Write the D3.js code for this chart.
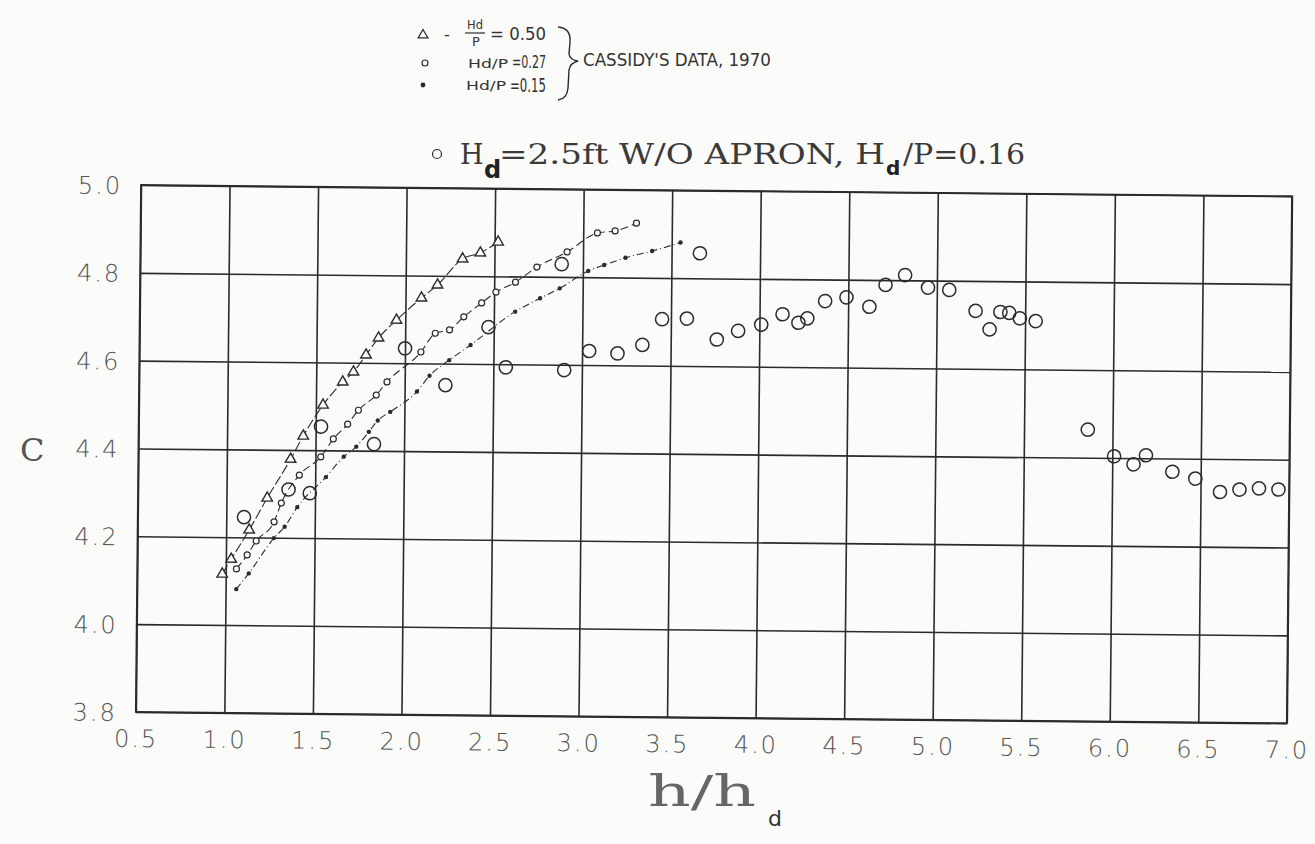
<!DOCTYPE html>
<html>
<head>
<meta charset="utf-8">
<script src="https://cdn.jsdelivr.net/npm/d3@7"></script>
<style>
  html, body { margin: 0; padding: 0; background: #fbfbf9; }
  svg { display: block; }
</style>
</head>
<body>
<svg id="chart" width="1315" height="844"></svg>
<script>
// ---------------- data ----------------
const xTicks = [0.5, 1.0, 1.5, 2.0, 2.5, 3.0, 3.5, 4.0, 4.5, 5.0, 5.5, 6.0, 6.5, 7.0];
const yTicks = [3.8, 4.0, 4.2, 4.4, 4.6, 4.8, 5.0];

// Cassidy's data, Hd/P = 0.50 (triangles)
const triX = [0.98, 1.03, 1.13, 1.23, 1.36, 1.43, 1.54, 1.65, 1.71, 1.78, 1.85, 1.95, 2.09, 2.18, 2.32, 2.42, 2.52];
const triC = [4.116, 4.150, 4.217, 4.290, 4.379, 4.432, 4.503, 4.556, 4.579, 4.618, 4.657, 4.698, 4.749, 4.779, 4.839, 4.853, 4.878];

// Cassidy's data, Hd/P = 0.27 (small open circles)
const openX = [1.06, 1.12, 1.17, 1.27, 1.31, 1.41, 1.53, 1.60, 1.68, 1.74, 1.84, 1.90, 2.09, 2.17, 2.25, 2.33, 2.43, 2.51, 2.62, 2.74, 2.91, 3.08, 3.18, 3.30];
const openC = [4.128, 4.160, 4.192, 4.236, 4.279, 4.343, 4.385, 4.426, 4.460, 4.492, 4.527, 4.557, 4.626, 4.669, 4.677, 4.707, 4.739, 4.764, 4.787, 4.822, 4.857, 4.901, 4.906, 4.924];

// Cassidy's data, Hd/P = 0.15 (dots)
const dotX = [1.06, 1.13, 1.27, 1.33, 1.40, 1.56, 1.66, 1.73, 1.80, 1.85, 1.92, 2.07, 2.14, 2.25, 2.37, 2.62, 2.76, 2.87, 3.03, 3.12, 3.24, 3.39, 3.55];
const dotC = [4.082, 4.118, 4.199, 4.225, 4.270, 4.339, 4.386, 4.409, 4.443, 4.469, 4.489, 4.536, 4.572, 4.608, 4.643, 4.720, 4.751, 4.774, 4.814, 4.828, 4.845, 4.861, 4.881];

// Hd = 2.5 ft without apron, Hd/P = 0.16 (large open circles)
const bigX = [1.10, 1.35, 1.47, 1.53, 1.83, 2.00, 2.23, 2.47, 2.57, 2.88, 2.90, 3.04, 3.20, 3.34, 3.45, 3.59, 3.66, 3.76, 3.88, 4.01, 4.13, 4.22, 4.27, 4.37, 4.49, 4.62, 4.71, 4.82, 4.95, 5.07, 5.22, 5.30, 5.36, 5.41, 5.47, 5.56, 5.86, 6.01, 6.12, 6.19, 6.34, 6.47, 6.61, 6.72, 6.83, 6.94];
const bigC = [4.246, 4.310, 4.302, 4.454, 4.415, 4.634, 4.551, 4.684, 4.593, 4.829, 4.588, 4.632, 4.627, 4.647, 4.706, 4.708, 4.857, 4.661, 4.681, 4.696, 4.720, 4.701, 4.711, 4.751, 4.760, 4.739, 4.789, 4.812, 4.784, 4.779, 4.732, 4.690, 4.730, 4.728, 4.716, 4.710, 4.464, 4.404, 4.386, 4.407, 4.370, 4.355, 4.325, 4.331, 4.334, 4.332];

// ---------------- layout ----------------
const svg = d3.select("#chart");
const W = 1151, H = 527;
const ink = "#2b2b2b", grey = "#555";

const x = d3.scaleLinear().domain([0.5, 7.0]).range([0, W]);
const y = d3.scaleLinear().domain([3.8, 5.0]).range([H, 0]);

// scanned page is slightly rotated
const g = svg.append("g").attr("transform", "translate(141,185) rotate(0.56)");

// grid via axes
const gx = g.append("g").attr("transform", `translate(0,${H})`)
  .call(d3.axisBottom(x).tickValues(xTicks).tickSize(-H).tickPadding(18).tickFormat(d3.format(".1f")));
const gy = g.append("g")
  .call(d3.axisLeft(y).tickValues(yTicks).tickSize(-W).tickPadding(19).tickFormat(d3.format(".1f")));
[gx, gy].forEach(a => {
  a.select(".domain").remove();
  a.selectAll(".tick line").attr("stroke", ink).attr("stroke-width", 1.6);
  a.selectAll(".tick text")
    .attr("fill", grey)
    .style("font-family", "'DejaVu Sans', sans-serif")
    .style("font-weight", 300)
    .style("font-size", "24px")
    .style("letter-spacing", "2px");
});
gx.selectAll(".tick text").attr("dy", "0.71em");
gy.selectAll(".tick text").attr("dy", "0.36em");

// frame
g.append("rect").attr("x", 0).attr("y", 0).attr("width", W).attr("height", H)
  .attr("fill", "none").attr("stroke", ink).attr("stroke-width", 1.8);

// ----- Cassidy curves -----
function series(xs, cs) { return xs.map((v, i) => ({ x: v, c: cs[i] })); }
const tri = series(triX, triC), opn = series(openX, openC), dot = series(dotX, dotC), big = series(bigX, bigC);
const line = d3.line().x(d => x(d.x)).y(d => y(d.c)).curve(d3.curveMonotoneX);

g.append("path").datum(tri).attr("d", line).attr("fill", "none")
  .attr("stroke", ink).attr("stroke-width", 1.1).attr("stroke-dasharray", "10,3");
g.append("path").datum(opn).attr("d", line).attr("fill", "none")
  .attr("stroke", ink).attr("stroke-width", 1.1).attr("stroke-dasharray", "8,4");
g.append("path").datum(dot).attr("d", line).attr("fill", "none")
  .attr("stroke", ink).attr("stroke-width", 1.1).attr("stroke-dasharray", "7,3,1,3");

const triSym = d3.symbol().type(d3.symbolTriangle).size(48);
g.append("g").selectAll("path").data(tri).join("path")
  .attr("transform", d => `translate(${x(d.x)},${y(d.c)})`)
  .attr("d", triSym).attr("fill", "#fbfbf9").attr("stroke", ink).attr("stroke-width", 1.4);

g.append("g").selectAll("circle").data(opn).join("circle")
  .attr("cx", d => x(d.x)).attr("cy", d => y(d.c)).attr("r", 3)
  .attr("fill", "#fbfbf9").attr("stroke", ink).attr("stroke-width", 1.2);

g.append("g").selectAll("circle").data(dot).join("circle")
  .attr("cx", d => x(d.x)).attr("cy", d => y(d.c)).attr("r", 2.2)
  .attr("fill", ink);

g.append("g").selectAll("circle").data(big).join("circle")
  .attr("cx", d => x(d.x)).attr("cy", d => y(d.c)).attr("r", 6.6)
  .attr("fill", "none").attr("stroke", ink).attr("stroke-width", 1.5);

// ----- axis titles -----
svg.append("text").attr("x", 20).attr("y", 461).text("C")
  .attr("fill", grey).style("font-family", "'DejaVu Serif', serif").style("font-size", "32px");

svg.append("text").attr("x", 648).attr("y", 806).text("h/h")
  .attr("textLength", 108).attr("lengthAdjust", "spacingAndGlyphs")
  .attr("fill", "#666").style("font-family", "'DejaVu Serif', serif").style("font-weight", 300).style("font-size", "42px");
svg.append("text").attr("x", 768).attr("y", 826).text("d")
  .attr("fill", "#333").style("font-family", "'DejaVu Sans', sans-serif").style("font-size", "22px");

// ----- legend (typed) -----
const hand = "'DejaVu Sans', sans-serif";
svg.append("circle").attr("cx", 437).attr("cy", 154).attr("r", 4.5)
  .attr("fill", "none").attr("stroke", ink).attr("stroke-width", 1.2);
const serif = "'DejaVu Serif', serif";
svg.append("text").attr("x", 460).attr("y", 164).text("H")
  .attr("fill", "#3a3a3a").style("font-family", serif).style("font-size", "27px");
svg.append("text").attr("x", 484).attr("y", 178).text("d")
  .attr("fill", "#222").style("font-family", hand).style("font-weight", "bold").style("font-size", "24px");
svg.append("text").attr("x", 499).attr("y", 164).text("=2.5ft W/O APRON, H")
  .attr("textLength", 386).attr("lengthAdjust", "spacingAndGlyphs")
  .attr("fill", "#3a3a3a").style("font-family", serif).style("font-size", "27px");
svg.append("text").attr("x", 886).attr("y", 175).text("d")
  .attr("fill", "#222").style("font-family", hand).style("font-weight", "bold").style("font-size", "20px");
svg.append("text").attr("x", 903).attr("y", 164).text("/P=0.16")
  .attr("textLength", 122).attr("lengthAdjust", "spacingAndGlyphs")
  .attr("fill", "#3a3a3a").style("font-family", serif).style("font-size", "27px");

// ----- legend (hand-written Cassidy) -----
const hw = (t, xx, yy, size, len) => {
  const e = svg.append("text").attr("x", xx).attr("y", yy).text(t)
    .attr("fill", "#333").style("font-family", hand).style("font-size", size + "px");
  if (len) e.attr("textLength", len).attr("lengthAdjust", "spacingAndGlyphs");
  return e;
};
svg.append("path").attr("transform", "translate(423,35)")
  .attr("d", d3.symbol().type(d3.symbolTriangle).size(40)).attr("fill", "none")
  .attr("stroke", ink).attr("stroke-width", 1.3);
hw("-", 444, 40, 16);
hw("Hd", 467, 29, 13, 16);
svg.append("line").attr("x1", 465).attr("x2", 485).attr("y1", 33).attr("y2", 33)
  .attr("stroke", ink).attr("stroke-width", 1.2);
hw("P", 472, 46, 13);
hw("= 0.50", 490, 40, 17, 56);

svg.append("circle").attr("cx", 425).attr("cy", 63).attr("r", 3)
  .attr("fill", "none").attr("stroke", ink).attr("stroke-width", 1.2);
hw("Hd/P", 468, 68, 13, 40);
hw("=0.27", 512, 68, 18, 34);

svg.append("circle").attr("cx", 423).attr("cy", 85).attr("r", 2.4).attr("fill", ink);
hw("Hd/P", 466, 90, 13, 40);
hw("=0.15", 510, 92, 19, 36);

svg.append("path")
  .attr("d", "M558,27 Q571,28 570,42 L569,54 Q570,60 578,61 Q570,63 569,70 L568,88 Q567,99 558,100")
  .attr("fill", "none").attr("stroke", ink).attr("stroke-width", 1.4);
hw("CASSIDY'S DATA, 1970", 583, 66, 18, 188);
</script>
</body>
</html>
